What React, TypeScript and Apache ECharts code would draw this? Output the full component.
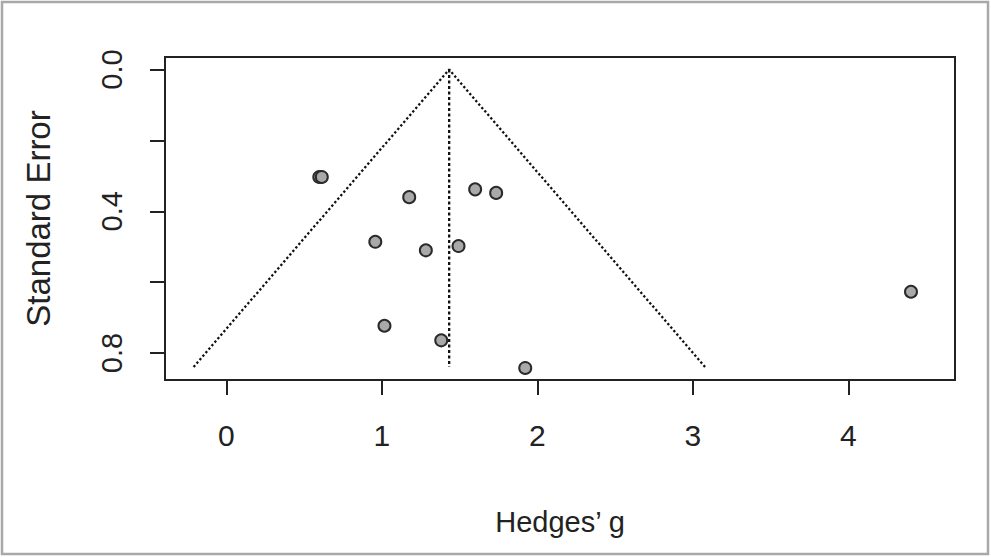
import React, { useEffect, useRef } from "react";
import * as echarts from "echarts";

const hedgesG = [0.598, 0.614, 1.176, 1.6, 1.735, 0.958, 1.283, 1.493, 1.017, 1.382, 1.922, 4.402];
const stdErr = [0.303, 0.303, 0.36, 0.338, 0.348, 0.486, 0.51, 0.498, 0.723, 0.764, 0.842, 0.627];

const funnelX = [-0.21, 1.433, 3.078];
const funnelY = [0.839, 0, 0.839];
const pooledX = [1.433, 1.433];
const pooledY = [0, 0.839];

const xTicks = [0, 1, 2, 3, 4];
const yTicks = [0, 0.2, 0.4, 0.6, 0.8];
const yLabels = [0, 0.4, 0.8];

const FONT = "'Liberation Sans', Arial, sans-serif";

export default function App() {
  const ref = useRef<HTMLDivElement>(null);
  useEffect(() => {
    if (!ref.current) return;
    const chart = echarts.init(ref.current, undefined, { renderer: "svg" });
    const points = hedgesG.map((g, i) => [g, stdErr[i]]);
    chart.setOption({
      animation: false,
      backgroundColor: "#ffffff",
      grid: {
        left: 165,
        top: 57,
        right: 36,
        bottom: 177,
        show: true,
        borderColor: "#222",
        borderWidth: 2,
        backgroundColor: "transparent",
      },
      xAxis: {
        type: "value",
        min: -0.394,
        max: 4.685,
        name: "Hedges\u2019 g",
        nameLocation: "middle",
        nameGap: 127,
        nameTextStyle: { fontFamily: FONT, fontSize: 29, color: "#222" },
        axisLine: { show: true, onZero: false, lineStyle: { color: "#222", width: 2 } },
        axisTick: { show: true, length: 15, customValues: xTicks, lineStyle: { color: "#222", width: 2 } },
        axisLabel: {
          customValues: xTicks,
          margin: 40,
          fontFamily: FONT,
          fontSize: 30,
          color: "#222",
        },
        splitLine: { show: false },
      },
      yAxis: {
        type: "value",
        inverse: true,
        min: -0.0355,
        max: 0.876,
        name: "Standard Error",
        nameLocation: "middle",
        nameGap: 110,
        nameRotate: 90,
        nameTextStyle: { fontFamily: FONT, fontSize: 33, color: "#222" },
        axisLine: { show: true, onZero: false, lineStyle: { color: "#222", width: 2 } },
        axisTick: { show: true, length: 15, customValues: yTicks, lineStyle: { color: "#222", width: 2 } },
        axisLabel: {
          customValues: yLabels,
          rotate: 90,
          margin: 39,
          fontFamily: FONT,
          fontSize: 29,
          color: "#222",
          formatter: (v: number) => v.toFixed(1),
        },
        splitLine: { show: false },
      },
      graphic: [
        {
          type: "rect",
          shape: { x: 2, y: 2, width: 986, height: 552 },
          style: { fill: "none", stroke: "#a8a8a8", lineWidth: 2.5 },
          silent: true,
        },
      ],
      series: [
        {
          type: "line",
          data: funnelX.map((x, i) => [x, funnelY[i]]),
          symbol: "none",
          lineStyle: { color: "#111", width: 2.3, type: [2.3, 2.3] },
          z: 2,
        },
        {
          type: "line",
          data: pooledX.map((x, i) => [x, pooledY[i]]),
          symbol: "none",
          lineStyle: { color: "#111", width: 2.3, type: [3, 2.5] },
          z: 2,
        },
        {
          type: "scatter",
          data: points,
          symbol: "circle",
          symbolSize: 12,
          itemStyle: { color: "#a9a9a9", borderColor: "#2a2a2a", borderWidth: 2, opacity: 1 },
          z: 3,
        },
      ],
    });
    return () => chart.dispose();
  }, []);
  return (
    <div
      ref={ref}
      style={{ position: "fixed", left: 0, top: 0, width: 991, height: 557 }}
    />
  );
}
